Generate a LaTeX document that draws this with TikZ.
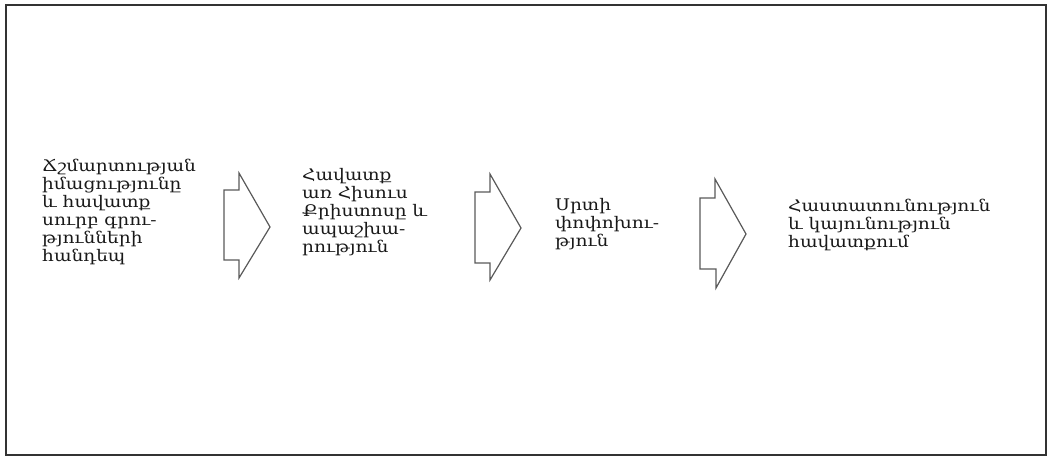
\documentclass[tikz,border=0pt]{standalone}
\usepackage{fontspec}
\newfontfamily\armfont[FakeStretch=1.16]{DejaVu Serif}
\tikzset{
  frame/.style={draw=black!80, line width=1.3pt},
  flowarrow/.style={draw=black!65, line width=1.2pt, line join=miter},
  stage/.style={anchor=base west, inner sep=0pt, align=left,
    font=\armfont\fontsize{16}{18}\selectfont, text=black!90},
}
\begin{document}
\begin{tikzpicture}[x=1pt,y=-1pt]
\useasboundingbox (0,0) rectangle (1048,459);
\draw[frame] (6,5) rectangle (1046,455);
% stage texts (anchored at the baseline of their last line)
\node[stage] (t1) at (42,261) {Ճշմարտության\\իմացությունը\\և հավատք\\սուրբ գրու-\\թյունների\\հանդեպ};
\node[stage] (t2) at (302,252) {Հավատք\\առ Հիսուս\\Քրիստոսը և\\ապաշխա-\\րություն};
\node[stage] (t3) at (555,246) {Սրտի\\փոփոխու-\\թյուն};
\node[stage] (t4) at (788,247) {Հաստատունություն\\և կայունություն\\հավատքում};
% block arrows
\draw[flowarrow] (239,173) -- (270,227) -- (239,278) -- (239,260) -- (224,260) -- (224,190) -- (239,190) -- cycle;
\draw[flowarrow] (490,174) -- (521,228) -- (490,280) -- (490,263) -- (475,263) -- (475,192) -- (490,192) -- cycle;
\draw[flowarrow] (715,179) -- (746,234) -- (716,288) -- (716,269) -- (700,269) -- (700,198) -- (715,198) -- cycle;
\end{tikzpicture}
\end{document}
